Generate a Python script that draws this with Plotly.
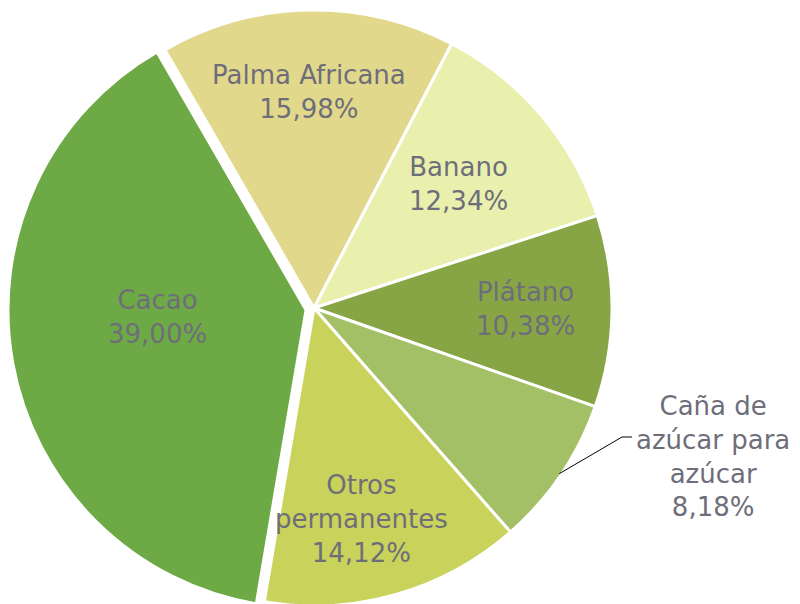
import math
import plotly.graph_objects as go

# ---- data ----
categories = ["Palma Africana", "Banano", "Plátano",
              "Caña de azúcar para azúcar", "Otros permanentes", "Cacao"]
display_labels = ["Palma Africana", "Banano", "Plátano",
                  "Caña de<br>azúcar para<br>azúcar", "Otros<br>permanentes", "Cacao"]
shares = [15.98, 12.34, 10.38, 8.18, 14.12, 39.00]

# ---- style ----
colors = ["#E2D88B", "#E9F0AE", "#87A545", "#A3C066", "#C9D35B", "#6DAA45"]
exploded = "Cacao"
explode_shift = (-8, 2)    # pixel shift of the exploded slice
text_color = "#6E6E7A"
font_family = "DejaVu Sans"
font_size = 26

W, H = 800, 604
cx, cy = 306, 300          # pie centre in figure pixels
radius = 298
start_deg = -30            # first slice start (clockwise from 12 o'clock)

def to_paper(px, py):
    return px / W, 1 - py / H

def domain_for(x0, y0):
    return dict(x=[max(0, (x0 - radius) / W), min(1, (x0 + radius) / W)],
                y=[max(0, 1 - (y0 + radius) / H), min(1, 1 - (y0 - radius) / H)])

base_colors = [("rgba(0,0,0,0)" if c == exploded else col) for c, col in zip(categories, colors)]
expl_colors = [(col if c == exploded else "rgba(0,0,0,0)") for c, col in zip(categories, colors)]
base_lines = [("rgba(0,0,0,0)" if c == exploded else "white") for c in categories]
expl_lines = [("white" if c == exploded else "rgba(0,0,0,0)") for c in categories]

common = dict(labels=categories, values=shares, sort=False, direction="clockwise",
              rotation=start_deg, textinfo="none", hoverinfo="label+percent",
              showlegend=False)

fig = go.Figure()
fig.add_trace(go.Pie(marker=dict(colors=base_colors, line=dict(color=base_lines, width=3)),
                     domain=domain_for(cx, cy), **common))
fig.add_trace(go.Pie(marker=dict(colors=expl_colors, line=dict(color=expl_lines, width=3)),
                     domain=domain_for(cx + explode_shift[0], cy + explode_shift[1]), **common))

# label block positions (pixel offsets from pie centre)
label_offsets = [(-5, -216), (144, -124), (211, 1), (399, 148), (47, 211), (-157, 9)]

total = sum(shares)
annotations = []
for lab, val, (dx, dy) in zip(display_labels, shares, label_offsets):
    pct = f"{val / total * 100:.2f}".replace(".", ",") + "%"
    x, y = to_paper(cx + dx, cy + dy)
    annotations.append(dict(
        x=x, y=y, xref="paper", yref="paper", showarrow=False,
        text=f"{lab}<br>{pct}", align="center",
        xanchor="center", yanchor="middle",
        font=dict(family=font_family, size=font_size, color=text_color),
    ))

# leader line for the outside label (Caña)
idx = 3
cum = sum(shares[:idx]) + shares[idx] / 2
theta = math.radians(start_deg + cum / total * 360)
sx, sy = cx + (radius - 2) * math.sin(theta), cy - (radius - 2) * math.cos(theta)
p0 = to_paper(sx, sy)
p1 = to_paper(cx + 308, cy + 129)
p2 = to_paper(cx + 318, cy + 129)
shapes = [dict(type="path", xref="paper", yref="paper",
               path=f"M {p0[0]},{p0[1]} L {p1[0]},{p1[1]} L {p2[0]},{p2[1]}",
               line=dict(color="black", width=1))]

fig.update_layout(
    width=W, height=H,
    margin=dict(l=0, r=0, t=0, b=0),
    paper_bgcolor="white", plot_bgcolor="white",
    annotations=annotations, shapes=shapes,
)

fig.write_html("out.html")
